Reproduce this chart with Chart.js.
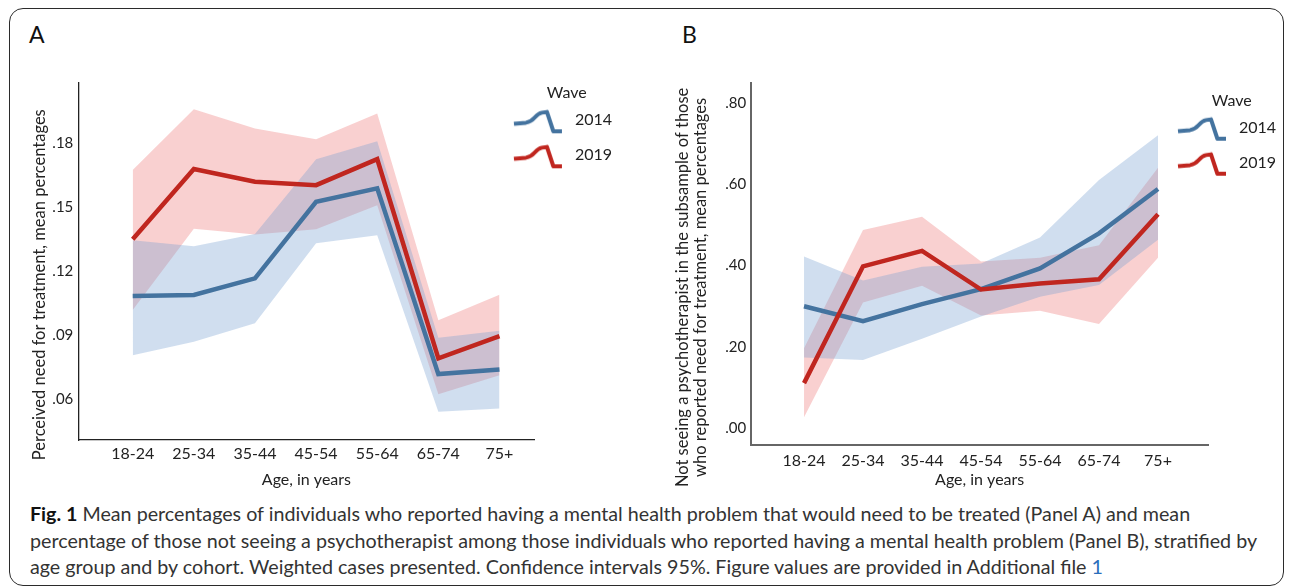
<!DOCTYPE html>
<html>
<head>
<meta charset="utf-8">
<script src="https://cdn.jsdelivr.net/npm/chart.js@4.4.1/dist/chart.umd.min.js"></script>
<style>
  body { margin: 0; width: 1292px; height: 588px; background: #fff; position: relative; overflow: hidden; font-family: Lato, "Open Sans", sans-serif; }
  #frame { position: absolute; left: 9px; top: 8px; width: 1275px; height: 578px; border: 1.5px solid #2b2b2b; border-radius: 14px; box-sizing: border-box; }
  .panel-letter { position: absolute; font-size: 23px; line-height: 23px; color: #111; }
  canvas { position: absolute; }
  #caption { position: absolute; left: 30px; top: 501px; font-size: 19.7px; line-height: 26.5px; color: #333; white-space: nowrap; }
  #caption b { color: #111; }
  #caption .ref { color: #2a6ebb; }
</style>
</head>
<body>
<div id="frame"></div>
<div class="panel-letter" style="left:29px;top:23px">A</div>
<div class="panel-letter" style="left:682px;top:23px">B</div>
<canvas id="chartA" width="630" height="440" style="left:20px;top:60px"></canvas>
<canvas id="chartB" width="620" height="440" style="left:660px;top:60px"></canvas>
<div id="caption"><b>Fig. 1</b> Mean percentages of individuals who reported having a mental health problem that would need to be treated (Panel A) and mean<br>percentage of those not seeing a psychotherapist among those individuals who reported having a mental health problem (Panel B), stratified by<br>age group and by cohort. Weighted cases presented. Confidence intervals 95%. Figure values are provided in Additional file <span class="ref">1</span></div>

<script>
// --- data ---
const ageGroups = ['18-24', '25-34', '35-44', '45-54', '55-64', '65-74', '75+'];
const waves = ['2014', '2019'];

// Panel A: perceived need for treatment
const needTicks    = [0.06, 0.09, 0.12, 0.15, 0.18];
const needMean2014 = [0.1084, 0.1089, 0.1167, 0.1526, 0.1589, 0.0718, 0.0740];
const needLow2014  = [0.0806, 0.0870, 0.0956, 0.1331, 0.1369, 0.0541, 0.0557];
const needHigh2014 = [0.1346, 0.1318, 0.1375, 0.1726, 0.1810, 0.0888, 0.0921];
const needMean2019 = [0.1350, 0.1680, 0.1620, 0.1604, 0.1726, 0.0792, 0.0896];
const needLow2019  = [0.1018, 0.1400, 0.1373, 0.1397, 0.1510, 0.0623, 0.0713];
const needHigh2019 = [0.1675, 0.1960, 0.1870, 0.1819, 0.1940, 0.0970, 0.1090];

// Panel B: not seeing a psychotherapist
const notSeenTicks    = [0, 0.2, 0.4, 0.6, 0.8];
const notSeenMean2014 = [0.300, 0.263, 0.305, 0.342, 0.393, 0.479, 0.588];
const notSeenLow2014  = [0.174, 0.168, 0.220, 0.275, 0.323, 0.352, 0.463];
const notSeenHigh2014 = [0.422, 0.363, 0.397, 0.405, 0.469, 0.610, 0.720];
const notSeenMean2019 = [0.111, 0.398, 0.436, 0.341, 0.356, 0.366, 0.526];
const notSeenLow2019  = [0.027, 0.309, 0.350, 0.277, 0.289, 0.256, 0.419];
const notSeenHigh2019 = [0.197, 0.487, 0.520, 0.410, 0.419, 0.450, 0.640];

// --- styles ---
const FONT = 'Lato, "Open Sans", sans-serif';
const BLUE = '#44739f';
const RED = '#c0261f';
const BLUE_BAND = 'rgba(120,160,210,0.35)';
const RED_BAND = 'rgba(235,110,110,0.32)';
const TEXT = '#222';
// the axis titles in the figure sit a bit below the plot centre; trailing blanks nudge them down
const TITLE_NUDGE = ' '.repeat(11);

Chart.defaults.font.family = FONT;
Chart.defaults.color = TEXT;

// little wave-shaped legend symbol
function squiggle(color) {
    const c = document.createElement('canvas');
    c.width = 52;
    c.height = 28;
    const g = c.getContext('2d');
    g.strokeStyle = color;
    g.lineWidth = 4;
    g.lineJoin = 'round';
    g.beginPath();
    g.moveTo(2, 17.6);
    g.lineTo(14, 16.4);
    g.quadraticCurveTo(19, 15.6, 23, 11);
    g.quadraticCurveTo(26.5, 7, 30, 6.4);
    g.lineTo(35, 5.6);
    g.lineTo(41.4, 25);
    g.lineTo(50, 25);
    g.stroke();
    return c;
}
const legendIcons = [squiggle(BLUE), squiggle(RED)];

// puts the legend box where the figure has it (it overlaps the plot's right edge)
const legendPlacer = {
    id: 'legendPlacer',
    afterLayout(chart, args, opts) {
        const lg = chart.legend;
        if (!lg) return;
        lg.left = opts.left;
        lg.top = opts.top;
        lg.width = opts.width;
        lg.right = lg.left + lg.width;
        lg.bottom = lg.top + lg.height;
    }
};

const pts = arr => arr.map((v, i) => ({ x: i, y: v }));
const fmtTick = v => '.' + v.toFixed(2).split('.')[1];

function buildDatasets(m14, lo14, hi14, m19, lo19, hi19) {
    const band = { borderWidth: 0, pointRadius: 0 };
    const line = { borderWidth: 4.5, pointRadius: 0, fill: false, borderJoinStyle: 'miter', borderCapStyle: 'butt' };
    return [
        { ...band, label: '2019 upper', data: pts(hi19), backgroundColor: RED_BAND, fill: 1, order: 4 },
        { ...band, label: '2019 lower', data: pts(lo19), fill: false, order: 4 },
        { ...band, label: '2014 upper', data: pts(hi14), backgroundColor: BLUE_BAND, fill: 3, order: 3 },
        { ...band, label: '2014 lower', data: pts(lo14), fill: false, order: 3 },
        { ...line, label: waves[0], data: pts(m14), borderColor: BLUE, order: 2 },
        { ...line, label: waves[1], data: pts(m19), borderColor: RED, order: 1 }
    ];
}

function makeChart(id, p) {
    return new Chart(document.getElementById(id), {
        type: 'line',
        data: { datasets: buildDatasets(...p.series) },
        plugins: [legendPlacer],
        options: {
            responsive: false,
            animation: false,
            events: [],
            layout: { padding: { left: 0, top: p.padTop, right: p.padRight, bottom: 0 } },
            scales: {
                x: {
                    type: 'linear',
                    min: p.xMin,
                    max: p.xMax,
                    afterBuildTicks: s => { s.ticks = ageGroups.map((_, i) => ({ value: i })); },
                    afterFit: s => { s.height = p.xHeight; },
                    ticks: { callback: v => ageGroups[v], font: { size: 16 }, color: TEXT, padding: p.xTickPad, maxRotation: 0, autoSkip: false },
                    grid: { display: false, drawTicks: false },
                    border: { display: true, color: p.axisColor, width: p.axisWidth },
                    title: { display: true, text: 'Age, in years', font: { size: 16, lineHeight: 1.1 }, color: TEXT, padding: { top: 0, bottom: 11 } }
                },
                y: {
                    min: p.yMin,
                    max: p.yMax,
                    afterBuildTicks: s => { s.ticks = p.yTicks.map(v => ({ value: v })); },
                    afterFit: s => { s.width = p.yWidth; },
                    ticks: { callback: v => fmtTick(v), font: { size: 15 }, color: TEXT, padding: 5 },
                    grid: { display: false, drawTicks: false },
                    border: { display: true, color: p.axisColor, width: p.axisWidth },
                    title: { display: true, text: p.yTitle, font: { size: 16.5, lineHeight: 1.07 }, color: TEXT, padding: { top: p.yTitlePad, bottom: 0 } }
                }
            },
            plugins: {
                tooltip: { enabled: false },
                legendPlacer: p.legendBox,
                legend: {
                    position: 'chartArea',
                    align: 'start',
                    onClick: () => {},
                    title: { display: true, text: 'Wave', color: TEXT, font: { size: 16 }, padding: { top: 0, bottom: -11.2 } },
                    labels: {
                        usePointStyle: true,
                        pointStyleWidth: 58,
                        boxHeight: 16,
                        padding: 19,
                        color: TEXT,
                        font: { size: 16 },
                        generateLabels: () => waves.map((w, i) => ({
                            text: w,
                            pointStyle: legendIcons[i],
                            fillStyle: 'rgba(0,0,0,0)',
                            strokeStyle: 'rgba(0,0,0,0)',
                            lineWidth: 0,
                            hidden: false,
                            datasetIndex: 4 + i
                        }))
                    }
                }
            }
        }
    });
}

makeChart('chartA', {
    series: [needMean2014, needLow2014, needHigh2014, needMean2019, needLow2019, needHigh2019],
    yTicks: needTicks,
    yMin: 0.0409, yMax: 0.2083,
    xMin: -0.89, xMax: 6.573,
    padTop: 23, padRight: 115.5,
    xHeight: 60, xTickPad: 4,
    yWidth: 58.3, yTitlePad: 11,
    axisColor: '#222', axisWidth: 1.3,
    yTitle: 'Perceived need for treatment, mean percentages' + TITLE_NUDGE,
    legendBox: { left: 469.9, top: 25.3, width: 153.6 }
});

makeChart('chartB', {
    series: [notSeenMean2014, notSeenLow2014, notSeenHigh2014, notSeenMean2019, notSeenLow2019, notSeenHigh2019],
    yTicks: notSeenTicks,
    yMin: -0.041, yMax: 0.8477,
    xMin: -0.897, xMax: 6.851,
    padTop: 23.3, padRight: 71.8,
    xHeight: 55, xTickPad: 6,
    yWidth: 91.1, yTitlePad: 14,
    axisColor: '#666', axisWidth: 2,
    yTitle: ['Not seeing a psychotherapist in the subsample of those' + TITLE_NUDGE,
             'who reported need for treatment, mean percentages' + TITLE_NUDGE],
    legendBox: { left: 494, top: 32.7, width: 155.4 }
});
</script>
</body>
</html>
